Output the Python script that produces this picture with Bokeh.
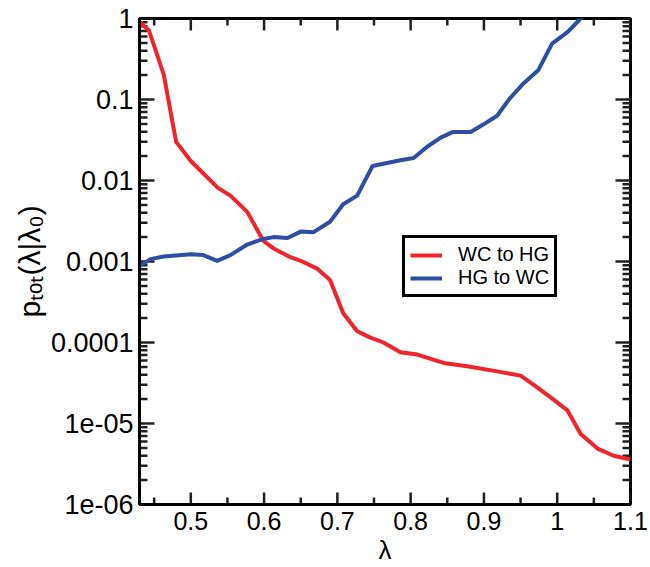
from bokeh.plotting import figure
from bokeh.models import LogAxis, LinearAxis, Legend, LegendItem, Range1d, LogTicker, FixedTicker
from bokeh.embed import file_html
from bokeh.resources import INLINE

x_wc_hg = [0.431, 0.443, 0.463, 0.480, 0.500, 0.537, 0.554, 0.577, 0.599, 0.613, 0.634, 0.650,
           0.673, 0.690, 0.708, 0.727, 0.745, 0.763, 0.786, 0.809, 0.845, 0.877, 0.918, 0.950,
           0.968, 0.991, 1.014, 1.032, 1.055, 1.077, 1.100]
p_wc_hg = [0.89, 0.71, 0.204, 0.030, 0.0174, 0.0081, 0.0065, 0.0041, 0.0018, 0.00145, 0.00115,
           0.00102, 0.00081, 0.00059, 0.00023, 0.000138, 0.000115, 0.0001, 7.6e-5, 7.1e-5, 5.6e-5,
           5.1e-5, 4.4e-5, 3.9e-5, 3.0e-5, 2.1e-5, 1.45e-5, 7.4e-6, 4.9e-6, 4.0e-6, 3.6e-6]

x_hg_wc = [0.431, 0.445, 0.463, 0.500, 0.517, 0.536, 0.554, 0.577, 0.599, 0.613, 0.632, 0.650,
           0.667, 0.690, 0.708, 0.727, 0.748, 0.786, 0.804, 0.823, 0.841, 0.858, 0.882, 0.899,
           0.918, 0.936, 0.954, 0.974, 0.993, 1.014, 1.032, 1.050]
p_hg_wc = [0.00089, 0.00107, 0.00115, 0.00123, 0.0012, 0.00102, 0.0012, 0.00162, 0.0019, 0.002,
           0.00195, 0.00234, 0.00229, 0.0031, 0.0051, 0.0065, 0.0151, 0.0178, 0.019, 0.0263,
           0.0339, 0.0398, 0.0398, 0.049, 0.063, 0.105, 0.158, 0.229, 0.49, 0.68, 1.0, 1.5]

series_names = ["WC to HG", "HG to WC"]
series_colors = ["#f0242b", "#2e4ea3"]

x_ticks = [0.5, 0.6, 0.7, 0.8, 0.9, 1.0, 1.1]
x_minor = [0.45, 0.55, 0.65, 0.75, 0.85, 0.95, 1.05]
x_tick_labels = ["0.5", "0.6", "0.7", "0.8", "0.9", "1", "1.1"]
y_ticks = [1e-6, 1e-5, 1e-4, 1e-3, 1e-2, 1e-1, 1]
y_minor = [m * 10.0 ** k for k in range(-6, 0) for m in range(2, 10)]
y_tick_labels = ["1e-06", "1e-05", "0.0001", "0.001", "0.01", "0.1", "1"]

X0, X1 = 0.43, 1.1
Y0, Y1 = 1e-6, 1.0

FONT = "Liberation Sans"
TICK = "#202020"

p = figure(width=650, height=567, output_backend="svg", toolbar_location=None,
           y_axis_type="log", x_range=Range1d(X0, X1), y_range=Range1d(Y0, Y1),
           min_border_left=139, min_border_right=20, min_border_top=18, min_border_bottom=60,
           x_axis_location=None, y_axis_location=None)
p.grid.visible = False
p.outline_line_color = "black"
p.outline_line_width = 3
p.background_fill_color = "white"
p.border_fill_color = "white"

# inward ticks on all four sides: filled bars centred on the frame edge, half clipped away
n_xt, n_xm, n_yt, n_ym = len(x_ticks), len(x_minor), len(y_ticks), len(y_minor)
for yedge in (Y0, Y1):
    p.rect(x=x_ticks, y=[yedge] * n_xt, width=2.5, height=24, width_units="screen",
           height_units="screen", fill_color=TICK, line_color=None)
    p.rect(x=x_minor, y=[yedge] * n_xm, width=2.5, height=14, width_units="screen",
           height_units="screen", fill_color=TICK, line_color=None)
for xedge in (X0, X1):
    p.rect(x=[xedge] * n_yt, y=y_ticks, width=30, height=2.5, width_units="screen",
           height_units="screen", fill_color=TICK, line_color=None)
    p.rect(x=[xedge] * n_ym, y=y_minor, width=16, height=2.5, width_units="screen",
           height_units="screen", fill_color=TICK, line_color=None)

r1 = p.line(x_wc_hg, p_wc_hg, line_color=series_colors[0], line_width=4)
r2 = p.line(x_hg_wc, p_hg_wc, line_color=series_colors[1], line_width=4)


def style(ax):
    ax.axis_line_width = 3
    ax.axis_line_color = "black"
    ax.major_tick_out = 0
    ax.minor_tick_out = 0
    ax.major_tick_in = 0
    ax.minor_tick_in = 0
    ax.major_tick_line_color = None
    ax.minor_tick_line_color = None
    ax.major_label_text_font = FONT
    ax.major_label_text_color = "black"
    ax.axis_label_text_font = FONT
    ax.axis_label_text_font_style = "normal"
    ax.axis_label_text_color = "black"


xb = LinearAxis(ticker=FixedTicker(ticks=x_ticks, minor_ticks=x_minor),
                major_label_overrides=dict(zip(x_ticks, x_tick_labels)), axis_label="λ")
style(xb)
xb.major_label_text_font_size = "25px"
xb.major_label_standoff = 7
xb.axis_label_standoff = 2
xb.axis_label_text_font_size = "26px"
p.add_layout(xb, "below")

yl = LogAxis(ticker=LogTicker(num_minor_ticks=10),
             major_label_overrides=dict(zip(y_ticks, y_tick_labels)),
             axis_label="pₜₒₜ(λ|λ₀)")
style(yl)
yl.major_label_text_font_size = "27px"
yl.major_label_standoff = 6
yl.axis_label_standoff = 2
yl.axis_label_text_font_size = "30px"
p.add_layout(yl, "left")

legend = Legend(items=[LegendItem(label=series_names[0], renderers=[r1]),
                       LegendItem(label=series_names[1], renderers=[r2])],
                location=(263, 207))
legend.border_line_color = "black"
legend.border_line_width = 3
legend.border_line_alpha = 1
legend.label_text_font = FONT
legend.label_text_font_size = "20px"
legend.label_text_color = "black"
legend.glyph_width = 32
legend.glyph_height = 20
legend.label_height = 20
legend.label_standoff = 16
legend.spacing = 0
legend.padding = 5
legend.margin = 0
legend.background_fill_alpha = 1
p.add_layout(legend, "center")

open("out.html", "w").write(file_html(p, INLINE))
